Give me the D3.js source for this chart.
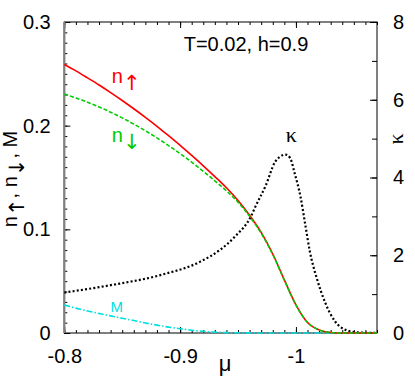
<!DOCTYPE html>
<html>
<head>
<meta charset="utf-8">
<script src="https://cdn.jsdelivr.net/npm/d3@7"></script>
<style>
  body { margin: 0; background: #fff; }
  svg { display: block; font-family: "Liberation Sans", Arial, sans-serif; }
  .axis path { display: none; }
  .axis line { stroke: #000; stroke-width: 1; }
  .axis text { font-size: 20px; fill: #000; font-family: "Liberation Sans", Arial, sans-serif; }
  .arrow { font-family: "DejaVu Sans", sans-serif; }
</style>
</head>
<body>
<div id="chart"></div>
<script>
// chemical potential grid for the density curves
const mu = [-0.80, -0.81, -0.82, -0.83, -0.84, -0.85, -0.86, -0.87, -0.88, -0.89,
            -0.90, -0.91, -0.92, -0.93, -0.94, -0.95, -0.96, -0.97, -0.98, -0.99,
            -1.00, -1.01, -1.02, -1.03, -1.04, -1.05, -1.06, -1.07];
const nUp = [0.259, 0.2528, 0.2461, 0.2392, 0.2319, 0.2243, 0.2163, 0.2080, 0.1994, 0.1903,
             0.181, 0.1713, 0.1613, 0.1509, 0.1401, 0.1278, 0.1135, 0.097, 0.0762, 0.0512,
             0.0272, 0.0102, 0.003, 0.0005, 0, 0, 0, 0];
const nDown = [0.2305, 0.2268, 0.2227, 0.2181, 0.2130, 0.2075, 0.2015, 0.1951, 0.1882, 0.1808,
               0.173, 0.1648, 0.1560, 0.1468, 0.1371, 0.1262, 0.1125, 0.0962, 0.0757, 0.0509,
               0.0270, 0.0101, 0.003, 0.0005, 0, 0, 0, 0];
const magM = [0.027, 0.024, 0.0213, 0.0188, 0.0165, 0.0142, 0.0120, 0.0097, 0.0076, 0.0057,
              0.0041, 0.0027, 0.0016, 0.0008, 0.0004, 0.0002, 0.0001, 0, 0, 0,
              0, 0, 0, 0, 0, 0, 0, 0];

// compressibility, read on its own (denser near the peak)
const kappaMu = [-0.800, -0.840, -0.883, -0.917, -0.935, -0.948, -0.961, -0.965, -0.974, -0.982,
                 -0.986, -0.991, -0.995, -0.999, -1.004, -1.008, -1.012, -1.018, -1.025, -1.034,
                 -1.043, -1.054, -1.070];
const kappa = [1.04, 1.23, 1.49, 1.83, 2.15, 2.50, 2.99, 3.25, 3.80, 4.40,
               4.53, 4.59, 4.50, 4.10, 3.50, 2.80, 2.10, 1.41, 0.80, 0.29,
               0.08, 0.015, 0];

const xTickVals = [-0.8, -0.9, -1];
const xTickLabels = ['-0.8', '-0.9', '-1'];
const nTickVals = [0, 0.1, 0.2, 0.3];
const nTickLabels = ['0', '0.1', '0.2', '0.3'];
const kTickVals = [0, 2, 4, 6, 8];

const W = 415, H = 378;
const margin = {top: 22, right: 38, bottom: 45, left: 64.3};
const width = W - margin.left - margin.right,
      height = H - margin.top - margin.bottom;

const x = d3.scaleLinear().domain([-0.8, -1.07]).range([0, width]);
const yL = d3.scaleLinear().domain([0, 0.3]).range([height, 0]);
const yR = d3.scaleLinear().domain([0, 8]).range([height, 0]);

const svgTop = d3.select('#chart').append('svg')
    .attr('width', W)
    .attr('height', H);
const svg = svgTop.append('g')
    .attr('transform', `translate(${margin.left},${margin.top})`);

const minorX = d3.range(80, 108).map(v => -v / 100);
const minorN = d3.range(0, 31).map(v => v / 100);
const minorK = d3.range(0, 9);

// ticks (all pointing inward)
svg.append('g').attr('class', 'axis')
    .attr('transform', `translate(0,${height})`)
    .call(d3.axisBottom(x).tickValues(minorX).tickFormat('').tickSize(-3));
svg.append('g').attr('class', 'axis')
    .attr('transform', `translate(0,${height})`)
    .call(d3.axisBottom(x).tickValues(xTickVals).tickFormat((d, i) => xTickLabels[i]).tickSize(-6).tickPadding(16));
svg.append('g').attr('class', 'axis')
    .call(d3.axisTop(x).tickValues(minorX).tickFormat('').tickSize(-3));
svg.append('g').attr('class', 'axis')
    .call(d3.axisTop(x).tickValues(xTickVals).tickFormat('').tickSize(-6));

svg.append('g').attr('class', 'axis')
    .call(d3.axisLeft(yL).tickValues(minorN).tickFormat('').tickSize(-3));
svg.append('g').attr('class', 'axis')
    .call(d3.axisLeft(yL).tickValues(nTickVals).tickFormat((d, i) => nTickLabels[i]).tickSize(-6).tickPadding(13.6));

svg.append('g').attr('class', 'axis')
    .attr('transform', `translate(${width},0)`)
    .call(d3.axisRight(yR).tickValues(minorK).tickFormat('').tickSize(-5));
svg.append('g').attr('class', 'axis')
    .attr('transform', `translate(${width},0)`)
    .call(d3.axisRight(yR).tickValues(kTickVals).tickFormat(d => d).tickSize(-7).tickPadding(16));

// frame
svg.append('rect')
    .attr('width', width).attr('height', height)
    .attr('fill', 'none').attr('stroke', '#000').attr('stroke-width', 1);
svg.append('line')
    .attr('x1', 0).attr('x2', 0).attr('y1', 0).attr('y2', height)
    .attr('stroke', '#808080').attr('stroke-width', 2.2);

// curves
const lineN = d3.line().x((d, i) => x(mu[i])).y(d => yL(d)).curve(d3.curveMonotoneX);
const lineK = d3.line().x((d, i) => x(kappaMu[i])).y(d => yR(d)).curve(d3.curveMonotoneX);

svg.append('path').datum(kappa)
    .attr('d', lineK).attr('fill', 'none')
    .attr('stroke', '#000').attr('stroke-width', 2.2).attr('stroke-dasharray', '2,2.2');
svg.append('path').datum(magM)
    .attr('d', lineN).attr('fill', 'none')
    .attr('stroke', '#00dede').attr('stroke-width', 1.6).attr('stroke-dasharray', '6,2,1.5,2');
svg.append('path').datum(nUp)
    .attr('d', lineN).attr('fill', 'none')
    .attr('stroke', '#ff0000').attr('stroke-width', 1.6);
svg.append('path').datum(nDown)
    .attr('d', lineN).attr('fill', 'none')
    .attr('stroke', '#00cc00').attr('stroke-width', 1.6).attr('stroke-dasharray', '4,2');

// curve labels
const lbl = (color, xv, yv, main, sub) => {
  const t = svg.append('text')
      .attr('x', xv).attr('y', yv)
      .attr('fill', color).attr('font-size', 20);
  t.append('tspan').text(main);
  if (sub) t.append('tspan').attr('class', 'arrow').attr('font-size', 21).attr('dy', 7).text(sub);
  return t;
};
lbl('#ff0000', x(-0.841), yL(0.241), 'n', '↑');
lbl('#00cc00', x(-0.841), yL(0.1845), 'n', '↓');
lbl('#00dede', x(-0.840), yL(0.0205), 'M').attr('font-size', 15);
svg.append('text')
    .attr('x', x(-0.996)).attr('y', yR(4.92))
    .attr('text-anchor', 'middle')
    .attr('font-family', '"Liberation Serif", serif')
    .attr('font-size', 22)
    .text('κ');

// titles
svgTop.append('text')
    .attr('x', 246).attr('y', 50.5)
    .attr('text-anchor', 'middle')
    .attr('font-size', 20)
    .text('T=0.02, h=0.9');

svgTop.append('text')
    .attr('x', 225).attr('y', 370.5)
    .attr('text-anchor', 'middle')
    .attr('font-size', 22)
    .text('μ');

const yLab = svgTop.append('text')
    .attr('transform', 'translate(17,179) rotate(-90)')
    .attr('text-anchor', 'middle')
    .attr('font-size', 20);
yLab.append('tspan').text('n');
yLab.append('tspan').attr('class', 'arrow').attr('font-size', 21).attr('dy', 7).text('↑');
yLab.append('tspan').attr('dy', -7).text(', n');
yLab.append('tspan').attr('class', 'arrow').attr('font-size', 21).attr('dy', 7).text('↓');
yLab.append('tspan').attr('dy', -7).text(', M');

svgTop.append('text')
    .attr('transform', 'translate(403,139) rotate(-90)')
    .attr('text-anchor', 'middle')
    .attr('font-family', '"Liberation Serif", serif')
    .attr('font-size', 22)
    .text('κ');
</script>
</body>
</html>
